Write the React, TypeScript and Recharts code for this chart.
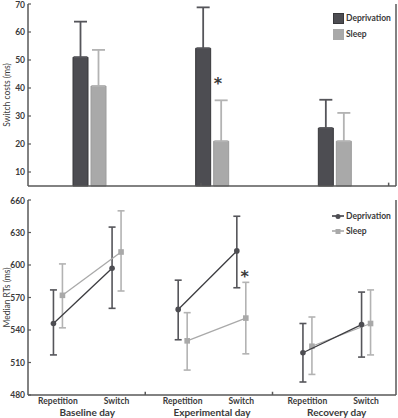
import React from "react";
import {
  BarChart,
  Bar,
  ErrorBar,
  XAxis,
  YAxis,
  ReferenceLine,
  ReferenceDot,
  ScatterChart,
  Scatter,
} from "recharts";

const DAYS = ["Baseline day", "Experimental day", "Recovery day"];
const CONDITIONS = ["Repetition", "Switch"];

// top panel: switch costs (ms), mean + upper error
const COST_DEP = [51, 54.2, 25.7];
const COST_DEP_ERR = [12.7, 14.6, 10.1];
const COST_SLEEP = [40.7, 21, 21];
const COST_SLEEP_ERR = [12.9, 14.6, 10.1];
const COST_TICKS = [10, 20, 30, 40, 50, 60, 70];

// bottom panel: median RTs, order = day x (repetition, switch)
const RT_DEP = [546, 597, 559, 613, 519, 545];
const RT_DEP_LOW = [517, 560, 531, 579, 492, 515];
const RT_DEP_HIGH = [577, 635, 586, 645, 546, 575];
const RT_SLEEP = [572, 612, 530, 551, 525, 546];
const RT_SLEEP_LOW = [542, 576, 503, 518, 499, 517];
const RT_SLEEP_HIGH = [601, 650, 556, 584, 552, 577];
const RT_TICKS = [480, 510, 540, 570, 600, 630, 660];

// significance marks
const COST_STAR = { day: "Experimental day", y: 43 };
const RT_STAR = { day: 1, cond: 1, y: 593 };

const DEP_FILL = "#4d4d52";
const DEP_EDGE = "#38383b";
const SLEEP_FILL = "#a9a9a9";
const SLEEP_EDGE = "#9c9c9c";
const DEP_ERR = "#55555a";
const SLEEP_ERR = "#b3b3b3";
const AXIS = "#585858";
const TEXT = "#3a3a3a";
const FONT = "Lato, 'DejaVu Sans', sans-serif";

// x layout shared by both panels (numeric axis units)
const X_MAX = 2.95;
const GROUP_CENTER = 0.475;
const COND_OFFSET = [-0.235, 0.235];
const DEP_SHIFT = -0.036;
const SLEEP_SHIFT = 0.036;
const SEPARATORS = [0.94, 1.96];

const costRows = DAYS.map((day, i) => ({
  day,
  dep: COST_DEP[i],
  depErr: [0, COST_DEP_ERR[i]],
  sleep: COST_SLEEP[i],
  sleepErr: [0, COST_SLEEP_ERR[i]],
}));

function rtGroups(mean: number[], low: number[], high: number[], shift: number) {
  return DAYS.map((_, d) =>
    CONDITIONS.map((_, c) => {
      const i = d * 2 + c;
      return {
        x: d + GROUP_CENTER + COND_OFFSET[c] + shift,
        y: mean[i],
        err: [mean[i] - low[i], high[i] - mean[i]],
      };
    })
  );
}

const depGroups = rtGroups(RT_DEP, RT_DEP_LOW, RT_DEP_HIGH, DEP_SHIFT);
const sleepGroups = rtGroups(RT_SLEEP, RT_SLEEP_LOW, RT_SLEEP_HIGH, SLEEP_SHIFT);

const condTicks = DAYS.flatMap((_, d) =>
  CONDITIONS.map((_, c) => d + GROUP_CENTER + COND_OFFSET[c])
);
const groupTicks = DAYS.map((_, d) => d + GROUP_CENTER);

const tickStyle = { fontSize: 8.5, fontWeight: 700, fill: TEXT, fontFamily: FONT };

function AxisTitle({ viewBox, text }: { viewBox?: any; text: string }) {
  if (!viewBox) return null;
  const cy = viewBox.y + viewBox.height / 2;
  const x = 7;
  return (
    <text
      x={x}
      y={cy}
      transform={`rotate(-90, ${x}, ${cy})`}
      textAnchor="middle"
      dominantBaseline="central"
      fontSize={8.5}
      fill={TEXT}
      fontFamily={FONT}
    >
      {text}
    </text>
  );
}

function Star(props: any) {
  return (
    <text
      x={props.cx + (props.dx ?? 0)}
      y={props.cy + 9}
      textAnchor="middle"
      fontSize={16}
      fontWeight={700}
      fill={TEXT}
      fontFamily="'DejaVu Sans', sans-serif"
    >
      *
    </text>
  );
}

function DepDot(props: any) {
  if (props.cx == null) return null;
  return <circle cx={props.cx} cy={props.cy} r={2.8} fill={DEP_FILL} />;
}

function SleepDot(props: any) {
  if (props.cx == null) return null;
  return (
    <rect x={props.cx - 2.8} y={props.cy - 2.8} width={5.6} height={5.6} fill={SLEEP_FILL} />
  );
}

const legendText: React.CSSProperties = {
  position: "absolute",
  fontFamily: FONT,
  fontSize: 8.5,
  fontWeight: 700,
  color: TEXT,
  lineHeight: "11px",
};

export default function App() {
  return (
    <div
      style={{
        position: "absolute",
        left: 0,
        top: 0,
        width: 398,
        height: 418,
        background: "#fff",
        overflow: "hidden",
      }}
    >
      <div style={{ position: "absolute", left: 0, top: 0 }}>
        <BarChart
          width={398}
          height={190}
          data={costRows}
          margin={{ top: 4, right: 0, bottom: 0, left: 0 }}
          barSize={15}
          barGap={3}
        >
          <XAxis
            dataKey="day"
            tick={false}
            tickLine={false}
            height={4}
            axisLine={{ stroke: AXIS, strokeWidth: 1.5 }}
          />
          <XAxis xAxisId="sep" type="number" domain={[0, X_MAX]} hide />
          <YAxis
            type="number"
            domain={[5, 70]}
            ticks={COST_TICKS}
            width={28}
            tickSize={-3}
            tickMargin={6}
            tick={tickStyle}
            axisLine={{ stroke: AXIS, strokeWidth: 1.5 }}
            tickLine={{ stroke: AXIS, strokeWidth: 1.2 }}
            label={{ content: (p: any) => <AxisTitle viewBox={p.viewBox} text="Switch costs (ms)" /> }}
          />
          <YAxis
            yAxisId="right"
            orientation="right"
            type="number"
            domain={[5, 70]}
            ticks={COST_TICKS}
            width={2}
            tick={false}
            tickSize={-3}
            axisLine={{ stroke: AXIS, strokeWidth: 1.5 }}
            tickLine={{ stroke: AXIS, strokeWidth: 1.2 }}
          />
          {SEPARATORS.map((s) => (
            <ReferenceLine
              key={s}
              xAxisId="sep"
              segment={[
                { x: s, y: 5 },
                { x: s, y: 6.2 },
              ]}
              stroke={AXIS}
              strokeWidth={1.5}
            />
          ))}
          <Bar dataKey="dep" fill={DEP_FILL} stroke={DEP_EDGE} strokeWidth={1} isAnimationActive={false}>
            <ErrorBar dataKey="depErr" width={6.5} stroke={DEP_ERR} strokeWidth={1.8} />
          </Bar>
          <Bar dataKey="sleep" fill={SLEEP_FILL} stroke={SLEEP_EDGE} strokeWidth={1} isAnimationActive={false}>
            <ErrorBar dataKey="sleepErr" width={6.5} stroke={SLEEP_ERR} strokeWidth={1.8} />
          </Bar>
          <ReferenceDot
            x={COST_STAR.day}
            y={COST_STAR.y}
            r={0}
            shape={(p: any) => <Star {...p} dx={6} />}
          />
        </BarChart>
      </div>

      <div style={{ position: "absolute", left: 0, top: 196 }}>
        <ScatterChart width={398} height={222} margin={{ top: 4, right: 0, bottom: 0, left: 0 }}>
          <XAxis
            xAxisId="cond"
            type="number"
            dataKey="x"
            domain={[0, X_MAX]}
            ticks={condTicks}
            interval={0}
            tickFormatter={(_v: number, i: number) => CONDITIONS[i % 2]}
            tickLine={false}
            tickSize={1}
            tickMargin={2}
            height={11}
            tick={tickStyle}
            axisLine={{ stroke: AXIS, strokeWidth: 1.5 }}
          />
          <XAxis
            xAxisId="grp"
            type="number"
            dataKey="x"
            domain={[0, X_MAX]}
            ticks={groupTicks}
            interval={0}
            tickFormatter={(_v: number, i: number) => DAYS[i]}
            axisLine={false}
            tickLine={false}
            tickSize={1}
            tickMargin={2}
            height={12}
            tick={{ ...tickStyle, fontSize: 10 }}
          />
          <YAxis
            yAxisId="left"
            type="number"
            dataKey="y"
            domain={[480, 660]}
            ticks={RT_TICKS}
            width={28}
            tickSize={-3}
            tickMargin={6}
            tick={tickStyle}
            axisLine={{ stroke: AXIS, strokeWidth: 1.5 }}
            tickLine={{ stroke: AXIS, strokeWidth: 1.2 }}
            label={{ content: (p: any) => <AxisTitle viewBox={p.viewBox} text="Median RTs (ms)" /> }}
          />
          <YAxis
            yAxisId="right"
            orientation="right"
            type="number"
            domain={[480, 660]}
            ticks={RT_TICKS}
            width={2}
            tick={false}
            tickSize={-3}
            axisLine={{ stroke: AXIS, strokeWidth: 1.5 }}
            tickLine={{ stroke: AXIS, strokeWidth: 1.2 }}
          />
          {SEPARATORS.map((s) => (
            <ReferenceLine
              key={s}
              xAxisId="cond"
              yAxisId="left"
              segment={[
                { x: s, y: 480 },
                { x: s, y: 483 },
              ]}
              stroke={AXIS}
              strokeWidth={1.5}
            />
          ))}
          {sleepGroups.map((pts, d) => (
            <Scatter
              key={`s${d}`}
              xAxisId="cond"
              yAxisId="left"
              data={pts}
              line={{ stroke: SLEEP_FILL, strokeWidth: 1.3 }}
              shape={SleepDot}
              isAnimationActive={false}
            >
              <ErrorBar dataKey="err" direction="y" width={3.5} stroke={SLEEP_ERR} strokeWidth={1.6} />
            </Scatter>
          ))}
          {/* same domain as "cond"; attached to "grp" so that axis gets data */}
          {depGroups.map((pts, d) => (
            <Scatter
              key={`d${d}`}
              xAxisId="grp"
              yAxisId="left"
              data={pts}
              line={{ stroke: "#3c3c40", strokeWidth: 1.3 }}
              shape={DepDot}
              isAnimationActive={false}
            >
              <ErrorBar dataKey="err" direction="y" width={3.5} stroke={DEP_ERR} strokeWidth={1.6} />
            </Scatter>
          ))}
          <ReferenceDot
            xAxisId="cond"
            yAxisId="left"
            x={RT_STAR.day + GROUP_CENTER + COND_OFFSET[RT_STAR.cond] + SLEEP_SHIFT}
            y={RT_STAR.y}
            r={0}
            shape={(p: any) => <Star {...p} dx={-1} />}
          />
        </ScatterChart>
      </div>

      {/* legend, top panel */}
      <div style={{ position: "absolute", left: 333, top: 13, width: 11, height: 11, background: DEP_FILL, boxSizing: "border-box", border: `1px solid ${DEP_EDGE}` }} />
      <div style={{ position: "absolute", left: 333, top: 28.5, width: 11, height: 11, background: SLEEP_FILL }} />
      <div style={{ ...legendText, left: 346, top: 13 }}>Deprivation</div>
      <div style={{ ...legendText, left: 346, top: 28.5 }}>Sleep</div>

      {/* legend, bottom panel */}
      <svg style={{ position: "absolute", left: 330, top: 210 }} width={16} height={28}>
        <line x1={2} y1={6} x2={14} y2={6} stroke={DEP_ERR} strokeWidth={1.8} />
        <circle cx={8} cy={6.5} r={2.5} fill={DEP_FILL} />
        <line x1={2} y1={21} x2={14} y2={21} stroke={SLEEP_ERR} strokeWidth={1.8} />
        <rect x={5.5} y={19} width={5} height={5} fill={SLEEP_FILL} />
      </svg>
      <div style={{ ...legendText, left: 346, top: 210.5 }}>Deprivation</div>
      <div style={{ ...legendText, left: 346, top: 225.5 }}>Sleep</div>
    </div>
  );
}
